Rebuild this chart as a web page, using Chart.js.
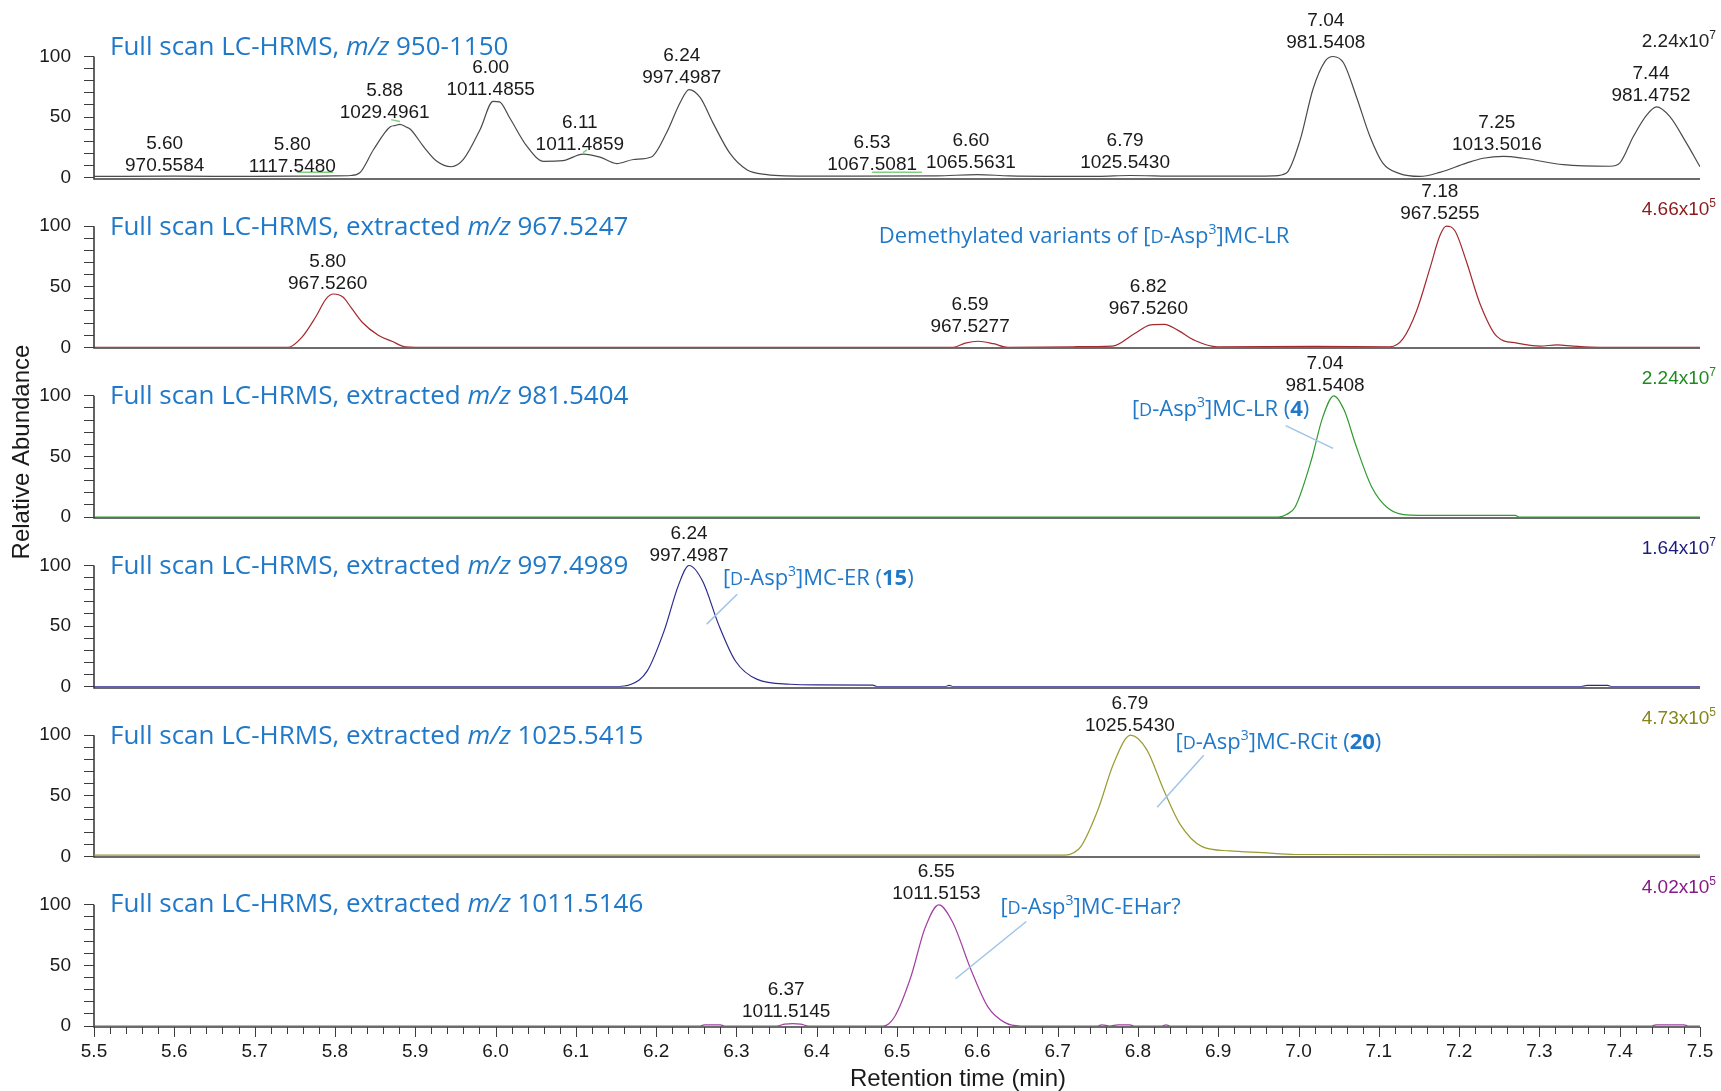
<!DOCTYPE html>
<html>
<head>
<meta charset="utf-8">
<title>Extracted ion chromatograms</title>
<script src="https://cdn.jsdelivr.net/npm/chart.js@4.4.1/dist/chart.umd.min.js"></script>
<style>
  html, body { margin: 0; padding: 0; background: #fff; }
  #wrap { position: relative; width: 1721px; height: 1091px; }
</style>
</head>
<body>
<div id="wrap"><canvas id="chrom"></canvas></div>
<script>
/* ---- traces: [retention time (min), relative abundance (%)] ---- */
const traceFullScan = [
  [5.50,1],[5.60,1.2],[5.70,1],[5.76,1.2],[5.80,1.5],[5.82,1.8],[5.831,4],[5.848,23],[5.869,42],
  [5.875,43],[5.881,44],[5.888,42],[5.894,40],[5.91,26],[5.927,13.5],[5.945,9],[5.96,15],[5.981,40],
  [5.997,63],[6.005,62.5],[6.018,49],[6.039,26],[6.06,13.5],[6.084,14],[6.109,19.5],[6.13,17],
  [6.151,11.6],[6.172,15],[6.194,17],[6.213,37],[6.23,62],[6.241,72.7],[6.255,66],[6.271,45],
  [6.292,20],[6.313,6.6],[6.338,2.5],[6.36,1.5],[6.45,1.2],[6.55,1.5],[6.60,2.5],[6.64,1.5],
  [6.75,1],[6.79,1.8],[6.85,1.2],[6.95,1.3],[6.969,1.5],[6.985,3.8],[7.002,31],[7.018,73],
  [7.033,96],[7.043,100],[7.056,94.8],[7.072,67],[7.089,34],[7.105,12],[7.126,3.3],[7.151,1],
  [7.176,4.4],[7.209,12],[7.23,16],[7.255,17.6],[7.28,16],[7.33,10.7],[7.388,9.4],[7.40,12],
  [7.417,34],[7.434,52],[7.446,58.4],[7.462,50.7],[7.483,28.7],[7.50,9]
];
const trace967 = [
  [5.50,0],[5.742,0],[5.759,8.4],[5.776,25],[5.789,40],[5.798,44],[5.81,41.5],[5.82,33],[5.834,20.7],
  [5.854,10],[5.871,5],[5.888,0.3],[5.90,0],[6.57,0],[6.585,3.5],[6.601,5],[6.62,3],[6.638,0],
  [6.72,0.5],[6.768,1],[6.795,11],[6.816,18.6],[6.833,19],[6.85,14],[6.871,5.7],[6.899,0.5],
  [7.02,0.8],[7.114,0.5],[7.13,7],[7.147,30],[7.164,66],[7.176,92],[7.184,100],[7.195,96],
  [7.209,71],[7.226,36],[7.247,9],[7.272,3.5],[7.301,1],[7.322,2],[7.342,1],[7.375,0],[7.50,0]
];
const trace981 = [
  [5.50,0],[6.975,0],[6.985,2],[6.996,8.5],[7.016,47],[7.03,82],[7.044,100],[7.057,88],[7.071,60],
  [7.091,25],[7.112,7],[7.139,1.6],[7.20,1.3],[7.27,1.3],[7.275,0],[7.50,0]
];
const trace997 = [
  [5.50,0],[6.148,0],[6.169,2],[6.189,13],[6.21,46],[6.228,84],[6.241,100],[6.258,87],[6.278,51],
  [6.299,21],[6.326,6],[6.367,2],[6.40,1.5],[6.47,1.3],[6.475,0],[6.56,0],[6.565,1],[6.57,0],
  [7.35,0],[7.36,1],[7.385,1],[7.39,0],[7.50,0]
];
const trace1025 = [
  [5.50,1],[6.709,1],[6.72,3],[6.729,8],[6.75,38],[6.77,77],[6.791,100],[6.811,88],[6.832,55],
  [6.852,27],[6.88,8],[6.914,4.5],[6.955,3],[6.996,1.5],[7.50,1]
];
const trace1011 = [
  [5.50,0],[6.255,0],[6.26,1],[6.28,1],[6.285,0],[6.35,0],[6.36,1.5],[6.37,2],[6.38,1.5],[6.39,0],
  [6.483,0],[6.497,7.6],[6.517,40],[6.535,81],[6.552,100],[6.569,86],[6.593,45],[6.613,16],
  [6.634,3],[6.654,0],[6.75,0],[6.755,1],[6.765,0],[6.775,1],[6.79,1],[6.795,0],[6.83,0],
  [6.835,1],[6.84,0],[7.44,0],[7.445,1],[7.48,1],[7.485,0],[7.50,0]
];

/* ---- panel headers and normalisation levels ---- */
const panelTitles = [
  ['Full scan LC-HRMS, ', {t: 'm/z', s: 'i'}, ' 950-1150'],
  ['Full scan LC-HRMS, extracted ', {t: 'm/z', s: 'i'}, ' 967.5247'],
  ['Full scan LC-HRMS, extracted ', {t: 'm/z', s: 'i'}, ' 981.5404'],
  ['Full scan LC-HRMS, extracted ', {t: 'm/z', s: 'i'}, ' 997.4989'],
  ['Full scan LC-HRMS, extracted ', {t: 'm/z', s: 'i'}, ' 1025.5415'],
  ['Full scan LC-HRMS, extracted ', {t: 'm/z', s: 'i'}, ' 1011.5146']
];
const titleLevels = [101, 93, 93, 93, 93, 94];
const scaleMantissa = ['2.24', '4.66', '2.24', '1.64', '4.73', '4.02'];
const scaleExponent = ['7', '5', '7', '7', '5', '5'];
const scaleLevels = [107.5, 109.5, 109.5, 109.5, 109.5, 109.5];
const traceColors = ['#4a4a4a', '#a3292e', '#2f9a2f', '#2b2b8e', '#9a9a30', '#a23fa2'];
const scaleColors = ['#222222', '#8c1a1a', '#1f8a1f', '#1c1c80', '#85851c', '#861a86'];

/* ---- peak labels: panel, RT text, m/z text, anchor RT, anchor level ---- */
const peakLabels = [
  [0, '5.60', '970.5584', 5.588, 5.2],
  [0, '5.80', '1117.5480', 5.747, 5],
  [0, '5.88', '1029.4961', 5.862, 49.3],
  [0, '6.00', '1011.4855', 5.994, 68.6],
  [0, '6.11', '1011.4859', 6.105, 23],
  [0, '6.24', '997.4987', 6.232, 78],
  [0, '6.53', '1067.5081', 6.469, 6.6],
  [0, '6.60', '1065.5631', 6.592, 8],
  [0, '6.79', '1025.5430', 6.784, 8],
  [0, '7.04', '981.5408', 7.034, 107],
  [0, '7.25', '1013.5016', 7.247, 23],
  [0, '7.44', '981.4752', 7.439, 63],
  [1, '5.80', '967.5260', 5.791, 48],
  [1, '6.59', '967.5277', 6.591, 12.5],
  [1, '6.82', '967.5260', 6.813, 27.6],
  [1, '7.18', '967.5255', 7.176, 106],
  [2, '7.04', '981.5408', 7.033, 104],
  [3, '6.24', '997.4987', 6.241, 104],
  [4, '6.79', '1025.5430', 6.79, 103.5],
  [5, '6.55', '1011.5153', 6.549, 105],
  [5, '6.37', '1011.5145', 6.362, 7.6]
];
/* small green peak markers in the full scan trace: [rt1, level1, rt2, level2] */
const peakMarks = [
  [5.753, 4.4, 5.798, 4.4],
  [5.870, 47.9, 5.881, 46.3],
  [6.109, 20.7, 6.114, 23],
  [6.469, 4.4, 6.531, 4.4]
];

/* ---- compound annotations: panel, text, centre RT, level, callout [rt1, lv1, rt2, lv2] ---- */
const D = {t: 'D', s: 'sc'};
const three = {t: '3', s: 'sup'};
const compoundNotes = [
  [1, ['Demethylated variants of [', D, '-Asp', three, ']MC-LR'], 6.733, 91.8, null],
  [2, ['[', D, '-Asp', three, ']MC-LR (', {t: '4', s: 'b'}, ')'], 6.903, 89.3, [6.984, 75.4, 7.043, 56.6]],
  [3, ['[', D, '-Asp', three, ']MC-ER (', {t: '15', s: 'b'}, ')'], 6.402, 89.3, [6.301, 76.2, 6.263, 51.6]],
  [4, ['[', D, '-Asp', three, ']MC-RCit (', {t: '20', s: 'b'}, ')'], 6.975, 94.2, [6.882, 83.5, 6.824, 40.5]],
  [5, ['[', D, '-Asp', three, ']MC-EHar?'], 6.741, 98.4, [6.661, 86.2, 6.573, 39]]
];

const yTickValues = [0, 10, 20, 30, 40, 50, 60, 70, 80, 90, 100];
const yLabelValues = [0, 50, 100];

const traces = [traceFullScan, trace967, trace981, trace997, trace1025, trace1011];
const panelIds = ['p1', 'p2', 'p3', 'p4', 'p5', 'p6'];

const ARIAL = '"Liberation Sans", Arial, sans-serif';
const CAL = '"Open Sans", "Noto Sans", sans-serif';
const INK = '#1a1a1a';
const NOTE_BLUE = '#1f78c8';

function segFont(style, size, fam) {
  if (style === 'i') return `italic ${size}px ${fam}`;
  if (style === 'b') return `bold ${size}px ${fam}`;
  if (style === 'sc') return `${Math.round(size * 0.8)}px ${fam}`;
  if (style === 'sup') return `${Math.round(size * 0.62)}px ${fam}`;
  return `${size}px ${fam}`;
}

// draws a run of mixed-style text (italic, bold, small caps, superscript)
function drawRich(ctx, segs, x, y, size, align, fam) {
  let total = 0;
  const parts = segs.map(sg => {
    const p = typeof sg === 'string' ? {t: sg, s: ''} : sg;
    const font = segFont(p.s, size, fam);
    ctx.font = font;
    const w = ctx.measureText(p.t).width;
    total += w;
    return {t: p.t, s: p.s, font, w};
  });
  let cx = x;
  if (align === 'center') cx = x - total / 2;
  if (align === 'right') cx = x - total;
  ctx.textAlign = 'left';
  ctx.textBaseline = 'alphabetic';
  parts.forEach(p => {
    ctx.font = p.font;
    const dy = p.s === 'sup' ? -size * 0.42 : 0;
    ctx.fillText(p.t, cx, y + dy);
    cx += p.w;
  });
}

const panelDecor = {
  id: 'panelDecor',
  beforeDatasetsDraw(chart) {
    const {ctx, chartArea: a} = chart;
    ctx.save();
    ctx.strokeStyle = '#3c3c3c';
    ctx.lineWidth = 1.6;
    panelIds.forEach(id => {
      const s = chart.scales[id];
      const y0 = Math.round(s.getPixelForValue(0)) + 1;
      const y100 = s.getPixelForValue(100);
      ctx.beginPath();
      ctx.moveTo(a.left, y100);
      ctx.lineTo(a.left, y0);
      ctx.lineTo(a.right, y0);
      ctx.stroke();
    });
    ctx.restore();
  },
  afterDraw(chart) {
    const {ctx, chartArea: a} = chart;
    const xs = chart.scales.x;
    ctx.save();

    // x ticks: long at every 0.1 min, short in between
    ctx.strokeStyle = '#3c3c3c';
    ctx.lineWidth = 1;
    xs.ticks.forEach(t => {
      const px = Math.round(xs.getPixelForValue(t.value)) + 0.5;
      const major = Math.round(t.value * 100) % 10 === 0;
      ctx.beginPath();
      ctx.moveTo(px, a.bottom + 1);
      ctx.lineTo(px, a.bottom + (major ? 11 : 8));
      ctx.stroke();
    });

    panelIds.forEach((id, i) => {
      const s = chart.scales[id];
      // panel header
      ctx.fillStyle = NOTE_BLUE;
      drawRich(ctx, panelTitles[i], a.left + 16, s.getPixelForValue(titleLevels[i]), 26, 'left', CAL);
      // normalisation level
      ctx.fillStyle = scaleColors[i];
      drawRich(ctx, [scaleMantissa[i] + 'x10', {t: scaleExponent[i], s: 'sup'}],
        a.right + 16, s.getPixelForValue(scaleLevels[i]), 19, 'right', ARIAL);
    });

    // green peak markers on the full scan
    ctx.strokeStyle = '#7fcf7f';
    ctx.lineWidth = 1.5;
    peakMarks.forEach(m => {
      const s = chart.scales.p1;
      ctx.beginPath();
      ctx.moveTo(xs.getPixelForValue(m[0]), s.getPixelForValue(m[1]));
      ctx.lineTo(xs.getPixelForValue(m[2]), s.getPixelForValue(m[3]));
      ctx.stroke();
    });

    // peak labels
    ctx.fillStyle = INK;
    ctx.font = `19px ${ARIAL}`;
    ctx.textAlign = 'center';
    ctx.textBaseline = 'alphabetic';
    peakLabels.forEach(([p, rt, mz, t, lv]) => {
      const s = chart.scales[panelIds[p]];
      const px = xs.getPixelForValue(t);
      const py = s.getPixelForValue(lv);
      ctx.fillText(rt, px, py - 22);
      ctx.fillText(mz, px, py);
    });

    // compound annotations with callout lines
    compoundNotes.forEach(([p, segs, t, lv, line]) => {
      const s = chart.scales[panelIds[p]];
      if (line) {
        ctx.strokeStyle = '#9fc4e8';
        ctx.lineWidth = 1.5;
        ctx.beginPath();
        ctx.moveTo(xs.getPixelForValue(line[0]), s.getPixelForValue(line[1]));
        ctx.lineTo(xs.getPixelForValue(line[2]), s.getPixelForValue(line[3]));
        ctx.stroke();
      }
      ctx.fillStyle = NOTE_BLUE;
      drawRich(ctx, segs, xs.getPixelForValue(t), s.getPixelForValue(lv) + 7, 22, 'center', CAL);
    });

    // axis titles
    ctx.fillStyle = INK;
    ctx.font = `24px ${ARIAL}`;
    ctx.textAlign = 'center';
    ctx.textBaseline = 'middle';
    ctx.fillText('Retention time (min)', 958, 1079);
    ctx.translate(22, 452);
    ctx.rotate(-Math.PI / 2);
    ctx.fillText('Relative Abundance', 0, 0);
    ctx.restore();
  }
};

const scales = {
  x: {
    type: 'linear', position: 'bottom', min: 5.5, max: 7.5,
    afterBuildTicks: s => {
      const ticks = [];
      for (let i = 0; i <= 100; i++) ticks.push({value: +(5.5 + i * 0.02).toFixed(2)});
      s.ticks = ticks;
    },
    afterFit: s => { s.height = 65; },
    grid: {display: false, drawTicks: true, tickLength: 10},
    border: {display: false},
    ticks: {
      autoSkip: false, maxRotation: 0, padding: 4, color: INK,
      font: {family: ARIAL, size: 19},
      callback: v => (Math.round(v * 100) % 10 === 0 ? v.toFixed(1) : '')
    }
  }
};
// stacked left axes: the last one declared ends up on top, so declare bottom panel first
panelIds.slice().reverse().forEach(id => {
  scales[id] = {
    type: 'linear', position: 'left', stack: 'traces', stackWeight: 1, min: 0, max: 140,
    afterBuildTicks: s => { s.ticks = yTickValues.map(v => ({value: v})); },
    // labels never reach the axis ends, so no extra room above/below is needed
    afterFit: s => { s.width = 94; s.paddingTop = 0; s.paddingBottom = 0; },
    grid: {drawOnChartArea: false, tickLength: 10, color: '#3c3c3c', lineWidth: 1},
    border: {display: false},
    ticks: {
      autoSkip: false, padding: 13, color: INK,
      font: {family: ARIAL, size: 19},
      callback: v => (yLabelValues.includes(v) ? String(v) : '')
    }
  };
});

new Chart(document.getElementById('chrom'), {
  type: 'line',
  data: {
    datasets: traces.map((tr, i) => ({
      data: tr.map(([x, y]) => ({x, y})),
      yAxisID: panelIds[i],
      borderColor: traceColors[i],
      borderWidth: 1.2,
      pointRadius: 0,
      cubicInterpolationMode: 'monotone',
      fill: false
    }))
  },
  options: {
    responsive: true,
    maintainAspectRatio: false,
    animation: false,
    layout: {padding: {top: 8, right: 21, left: 0, bottom: 0}},
    plugins: {legend: {display: false}, tooltip: {enabled: false}},
    scales
  },
  plugins: [panelDecor]
});
</script>
</body>
</html>
